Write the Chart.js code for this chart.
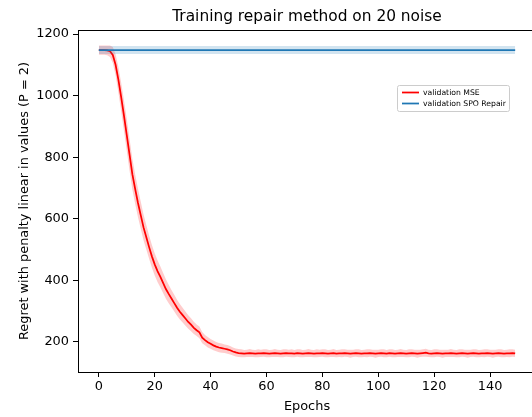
<!DOCTYPE html>
<html><head><meta charset="utf-8">
<script src="https://cdn.jsdelivr.net/npm/chart.js@4/dist/chart.umd.min.js"></script>
<style>html,body{margin:0;padding:0;overflow:hidden;background:#fff;width:532px;height:417px}canvas{display:block}</style>
</head><body>
<canvas id="c" width="540" height="417"></canvas>
<script>
const chartTitle = 'Training repair method on 20 noise';
const xTitle = 'Epochs';
const yTitle = 'Regret with penalty linear in values (P = 2)';
const xTicks = [0, 20, 40, 60, 80, 100, 120, 140];
const yTicks = [200, 400, 600, 800, 1000, 1200];
const seriesNames = ['validation MSE', 'validation SPO Repair'];

const mseMean = [
  1148,1148,1148,1147,1144,1132,1100,1052,995,935,
  872,808,745,697,652,612,572,540,508,478,
  452,430,412,392,372,356,341,326,311,298,
  287,276,265,256,246,238,231,214,206,199,
  194,189,185,182,180,178,176,173,169,166,
  164,
  163,162,163,164,163,162,163,163,164,163,
  162,163,164,163,162,163,164,163,163,162,
  164,163,162,163,164,163,162,163,163,164,
  163,162,163,164,162,163,163,164,163,162,
  163,164,163,162,163,163,164,163,162,163,
  164,163,162,164,163,162,163,164,163,162,
  163,164,163,162,163,164,165,163,162,163,
  164,163,162,163,163,164,163,162,163,164,
  163,162,163,164,163,162,163,163,164,163,
  162,163,164,163,162,163,163,164,163
];
const mseStd = [
  15,15,15,16,19,26,34,42,47,50,
  52,52,50,48,46,44,42,40,38,37,
  36,35,34,33,32,30,28,27,26,25,
  24,23,22,21,20,19,19,18,17,17,
  16,16,15,15,15,14,14,14,13,13,
  13,
  13,12,12,13,12,12,13,12,12,13,
  12,12,13,12,12,13,12,12,13,12,
  12,13,12,12,13,12,12,13,12,12,
  13,12,12,13,12,12,13,12,12,13,
  12,12,13,12,12,13,12,12,13,12,
  12,13,12,12,13,12,12,13,12,12,
  13,12,12,13,12,12,13,12,12,13,
  12,12,13,12,12,13,12,12,13,12,
  12,13,12,12,13,12,12,13,12,12,
  13,12,12,13,12,12,13,12,12
];
const spoMean = [
  1148,1148,1148,1148,1148,1148,1148,1148,1148,1148,1148,1148,1148,1148,1148,1148,1148,1148,1148,1148,1148,1148,1148,1148,1148,
  1148,1148,1148,1148,1148,1148,1148,1148,1148,1148,1148,1148,1148,1148,1148,1148,1148,1148,1148,1148,1148,1148,1148,1148,1148,
  1148,1148,1148,1148,1148,1148,1148,1148,1148,1148,1148,1148,1148,1148,1148,1148,1148,1148,1148,1148,1148,1148,1148,1148,1148,
  1148,1148,1148,1148,1148,1148,1148,1148,1148,1148,1148,1148,1148,1148,1148,1148,1148,1148,1148,1148,1148,1148,1148,1148,1148,
  1148,1148,1148,1148,1148,1148,1148,1148,1148,1148,1148,1148,1148,1148,1148,1148,1148,1148,1148,1148,1148,1148,1148,1148,1148,
  1148,1148,1148,1148,1148,1148,1148,1148,1148,1148,1148,1148,1148,1148,1148,1148,1148,1148,1148,1148,1148,1148,1148,1148,1148
];
const spoStd = [
  13,13,13,13,13,13,13,13,13,13,13,13,13,13,13,13,13,13,13,13,13,13,13,13,13,
  13,13,13,13,13,13,13,13,13,13,13,13,13,13,13,13,13,13,13,13,13,13,13,13,13,
  13,13,13,13,13,13,13,13,13,13,13,13,13,13,13,13,13,13,13,13,13,13,13,13,13,
  13,13,13,13,13,13,13,13,13,13,13,13,13,13,13,13,13,13,13,13,13,13,13,13,13,
  13,13,13,13,13,13,13,13,13,13,13,13,13,13,13,13,13,13,13,13,13,13,13,13,13,
  13,13,13,13,13,13,13,13,13,13,13,13,13,13,13,13,13,13,13,13,13,13,13,13,13
];

const pts = (arr, off, sign) => arr.map((v, i) => ({x: i, y: v + (off ? sign * off[i] : 0)}));
const FONT = 'DejaVu Sans';
const BLUE = '#1f77b4', RED = '#ff0000';

const line = (label, data, color) => ({label, data, borderColor: color, borderWidth: 1.75,
  pointRadius: 0, fill: false, tension: 0});
const band = (data, fill, bg) => ({data, borderWidth: 0, borderColor: 'rgba(0,0,0,0)', pointRadius: 0,
  fill, backgroundColor: bg, tension: 0});

const datasets = [
  line(seriesNames[1], pts(spoMean), BLUE),
  band(pts(spoMean, spoStd, 1), 2, 'rgba(31,119,180,0.2)'),
  band(pts(spoMean, spoStd, -1), false, 'rgba(0,0,0,0)'),
  line(seriesNames[0], pts(mseMean), RED),
  band(pts(mseMean, mseStd, 1), 5, 'rgba(255,0,0,0.2)'),
  band(pts(mseMean, mseStd, -1), false, 'rgba(0,0,0,0)')
];

const decor = {
  id: 'decor',
  afterDraw(chart) {
    const ctx = chart.ctx, a = chart.chartArea;
    ctx.save();
    ctx.strokeStyle = '#000'; ctx.lineWidth = 1;
    ctx.strokeRect(Math.round(a.left) + 0.5, Math.round(a.top) + 0.5, Math.round(a.right - a.left), Math.round(a.bottom - a.top));
    ctx.fillStyle = '#000';
    ctx.font = '15.4px "' + FONT + '"';
    ctx.textAlign = 'center'; ctx.textBaseline = 'middle';
    ctx.fillText(chartTitle, (a.left + a.right) / 2, 17);
    // legend
    const bx = 397.5, by = 85.5, bw = 112, bh = 26;
    ctx.beginPath();
    ctx.roundRect(bx, by, bw, bh, 2);
    ctx.fillStyle = 'rgba(255,255,255,0.8)'; ctx.fill();
    ctx.strokeStyle = '#cccccc'; ctx.lineWidth = 1; ctx.stroke();
    const entries = [chart.data.datasets[3], chart.data.datasets[0]];
    ctx.font = '7.7px "' + FONT + '"';
    ctx.textAlign = 'left';
    entries.forEach((d, i) => {
      const y = 92.5 + i * 11;
      ctx.beginPath(); ctx.moveTo(402, y); ctx.lineTo(419, y);
      ctx.strokeStyle = d.borderColor; ctx.lineWidth = 1.75; ctx.stroke();
      ctx.fillStyle = '#000';
      ctx.fillText(d.label, 423, y + 0.5);
    });
    ctx.restore();
  }
};

new Chart(document.getElementById('c'), {
  type: 'line',
  data: {datasets},
  plugins: [decor],
  options: {
    responsive: false, animation: false, devicePixelRatio: 1,
    layout: {padding: {top: 30, right: 4, left: 0, bottom: 0}},
    plugins: {legend: {display: false}, tooltip: {enabled: false}, title: {display: false}},
    scales: {
      x: {type: 'linear', min: -7.45, max: 156.45,
        afterBuildTicks: s => { s.ticks = xTicks.map(v => ({value: v})); },
        afterFit: s => { s.height = 45; },
        ticks: {color: '#000', font: {family: FONT, size: 12.9}, padding: 2, maxRotation: 0, autoSkip: false,
          callback: v => String(v)},
        grid: {drawOnChartArea: false, drawTicks: true, tickLength: 5, color: '#000', tickWidth: 1},
        border: {display: true, color: '#000', width: 1},
        title: {display: true, text: xTitle, color: '#000', font: {family: FONT, size: 12.9}, padding: {top: 0, bottom: 3}}
      },
      y: {type: 'linear', min: 102.5, max: 1213,
        afterBuildTicks: s => { s.ticks = yTicks.map(v => ({value: v})); },
        afterFit: s => { s.width = 78; },
        ticks: {color: '#000', font: {family: FONT, size: 12.9}, padding: 4, autoSkip: false,
          callback: v => String(v)},
        grid: {drawOnChartArea: false, drawTicks: true, tickLength: 5, color: '#000', tickWidth: 1},
        border: {display: true, color: '#000', width: 1},
        title: {display: true, text: yTitle, color: '#000', font: {family: FONT, size: 12.9}, padding: {top: 17, bottom: 0}}
      }
    }
  }
});
</script>
</body></html>
